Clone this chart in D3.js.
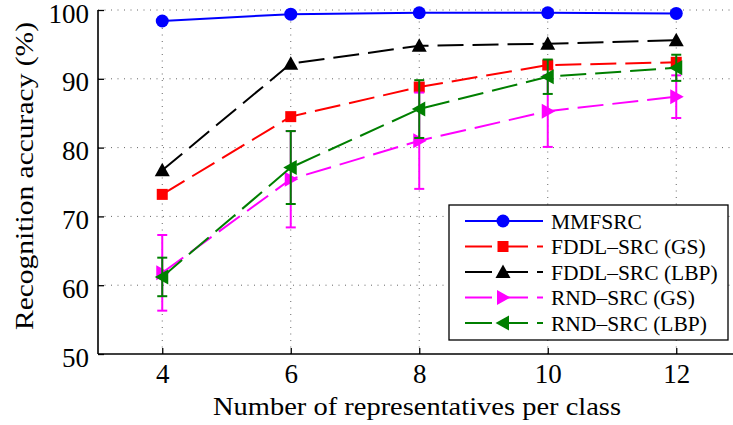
<!DOCTYPE html>
<html>
<head>
<meta charset="utf-8">
<script src="https://cdn.jsdelivr.net/npm/d3@7"></script>
<style>
  html, body { margin: 0; padding: 0; background: #fff; }
  svg { display: block; }
  svg text { fill: #000; }
</style>
</head>
<body>
<svg id="chart" width="733" height="425"></svg>
<script>
// Number of representatives per class
const reps = [4, 6, 8, 10, 12];
const yTicks = [50, 60, 70, 80, 90, 100];

// Recognition accuracy (%) per method
const mmfsrc   = [98.4, 99.4, 99.6, 99.6, 99.5];
const fddlGS   = [73.2, 84.5, 88.8, 92.0, 92.4];
const fddlLBP  = [76.7, 92.2, 94.8, 95.1, 95.6];
const rndGS    = [61.8, 75.4, 81.0, 85.3, 87.4];
const rndGSErr = [5.5, 7.0, 7.0, 5.2, 3.1];
const rndLBP   = [61.2, 77.1, 85.6, 90.3, 91.6];
const rndLBPErr= [2.8, 5.3, 4.2, 2.5, 1.9];

const seriesNames = ["MMFSRC", "FDDL\u2013SRC (GS)", "FDDL\u2013SRC (LBP)", "RND\u2013SRC (GS)", "RND\u2013SRC (LBP)"];
const seriesColors = ["#0000ff", "#ff0000", "#000000", "#ff00ff", "#007f00"];
const seriesMarkers = ["circle", "square", "up", "right", "left"];
const seriesDashed = [false, true, true, true, true];
const seriesValues = [mmfsrc, fddlGS, fddlLBP, rndGS, rndLBP];
const seriesErrors = [null, null, null, rndGSErr, rndLBPErr];

const serif = "Liberation Serif, Times New Roman, Times, DejaVu Serif, serif";
const svg = d3.select("#chart");
const plotLeft = 98, plotBottom = 354, plotTop = 10;

const x = d3.scaleLinear().domain([3, 13]).range([plotLeft, plotLeft + 642.5]);
const y = d3.scaleLinear().domain([50, 100]).range([plotBottom, plotTop]);

// dotted grid
const grid = svg.append("g");
grid.selectAll("line.h").data(yTicks.filter(v => v > 50)).join("line")
  .attr("x1", plotLeft).attr("x2", 733)
  .attr("y1", d => y(d)).attr("y2", d => y(d))
  .attr("stroke", "#666").attr("stroke-width", 1).attr("stroke-dasharray", "1,5.5");
grid.selectAll("line.v").data(reps).join("line")
  .attr("x1", d => x(d)).attr("x2", d => x(d))
  .attr("y1", plotBottom).attr("y2", plotTop)
  .attr("stroke", "#666").attr("stroke-width", 1).attr("stroke-dasharray", "1,5.5");

// axes with inward ticks
const yAxis = svg.append("g").attr("transform", `translate(${plotLeft},0)`)
  .call(d3.axisLeft(y).tickValues(yTicks).tickSize(-6).tickPadding(9).tickFormat(d3.format("d")));
const xAxis = svg.append("g").attr("transform", `translate(0,${plotBottom})`)
  .call(d3.axisBottom(x).tickValues(reps).tickSize(-6).tickPadding(10).tickFormat(d3.format("d")));
[yAxis, xAxis].forEach(g => {
  g.attr("font-family", serif);
  g.select(".domain").attr("stroke", "#000").attr("stroke-width", 1.6);
  g.selectAll(".tick line").attr("stroke", "#000").attr("stroke-width", 1.3);
  g.selectAll(".tick text").attr("font-size", 27);
});
yAxis.select(".domain").attr("d", `M0,${plotTop}V${plotBottom}`);
xAxis.select(".domain").attr("d", `M${plotLeft},0H733`);
yAxis.selectAll(".tick text").attr("dy", "0.45em");
xAxis.selectAll(".tick text").attr("dy", "0.72em");

// axis titles
svg.append("text")
  .attr("x", 417).attr("y", 415)
  .attr("text-anchor", "middle").attr("font-size", 26).attr("font-family", serif)
  .attr("textLength", 408).attr("lengthAdjust", "spacingAndGlyphs")
  .text("Number of representatives per class");
svg.append("text")
  .attr("transform", "translate(33,176) rotate(-90)")
  .attr("text-anchor", "middle").attr("font-size", 26).attr("font-family", serif)
  .attr("textLength", 308).attr("lengthAdjust", "spacingAndGlyphs")
  .text("Recognition accuracy (%)");

function drawMarker(g, type, cx, cy, color) {
  if (type === "circle") {
    g.append("circle").attr("cx", cx).attr("cy", cy).attr("r", 6.5).attr("fill", color);
  } else if (type === "square") {
    g.append("rect").attr("x", cx - 5.5).attr("y", cy - 5.5).attr("width", 11).attr("height", 11).attr("fill", color);
  } else {
    const s = 7.5;
    let pts;
    if (type === "up") pts = [[cx, cy - s], [cx - s, cy + s * 0.8], [cx + s, cy + s * 0.8]];
    else if (type === "right") pts = [[cx + s, cy], [cx - s * 0.8, cy - s], [cx - s * 0.8, cy + s]];
    else pts = [[cx - s, cy], [cx + s * 0.8, cy - s], [cx + s * 0.8, cy + s]];
    g.append("polygon").attr("points", pts.map(p => p.join(",")).join(" ")).attr("fill", color);
  }
}

const line = d3.line().x(d => x(d[0])).y(d => y(d[1]));
const plot = svg.append("g");

seriesValues.forEach((vals, i) => {
  const g = plot.append("g");
  const color = seriesColors[i];
  const pts = reps.map((r, j) => [r, vals[j]]);
  g.append("path").attr("d", line(pts))
    .attr("fill", "none").attr("stroke", color).attr("stroke-width", 2)
    .attr("stroke-dasharray", seriesDashed[i] ? "26,9" : null);
  const err = seriesErrors[i];
  if (err) {
    reps.forEach((r, j) => {
      const cx = x(r), y1 = y(vals[j] + err[j]), y2 = y(vals[j] - err[j]);
      g.append("line").attr("x1", cx).attr("x2", cx).attr("y1", y1).attr("y2", y2)
        .attr("stroke", color).attr("stroke-width", 2);
      [y1, y2].forEach(yy => g.append("line")
        .attr("x1", cx - 5).attr("x2", cx + 5).attr("y1", yy).attr("y2", yy)
        .attr("stroke", color).attr("stroke-width", 2));
    });
  }
  pts.forEach(p => drawMarker(g, seriesMarkers[i], x(p[0]), y(p[1]), color));
});

// legend
const lg = svg.append("g");
lg.append("rect").attr("x", 449).attr("y", 205).attr("width", 279).attr("height", 135)
  .attr("fill", "#fff").attr("stroke", "#000").attr("stroke-width", 1.3);
seriesNames.forEach((name, i) => {
  const cy = 221 + i * 25.5;
  lg.append("line").attr("x1", 465).attr("x2", 543).attr("y1", cy).attr("y2", cy)
    .attr("stroke", seriesColors[i]).attr("stroke-width", 2)
    .attr("stroke-dasharray", seriesDashed[i] ? "27,9" : null);
  drawMarker(lg, seriesMarkers[i], 503, cy, seriesColors[i]);
  lg.append("text").attr("x", 551).attr("y", cy + 7.5).attr("font-size", 21.5)
    .attr("font-family", serif).text(name);
});
</script>
</body>
</html>
